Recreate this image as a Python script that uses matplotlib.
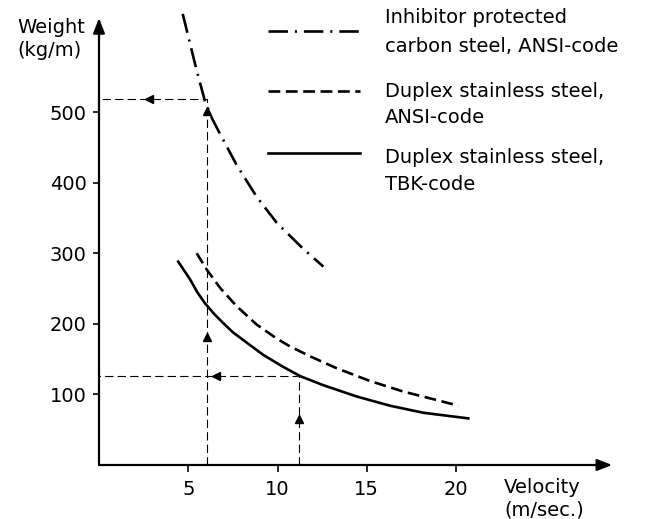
import numpy as np
import matplotlib.pyplot as plt

plt.rcParams['font.family'] = ['DejaVu Sans']
plt.rcParams['lines.scale_dashes'] = False

# curves: velocity (m/sec.) vs weight (kg/m)
carbon_v = [4.69, 5.10, 5.47, 5.94, 6.35, 6.78, 7.71, 8.83, 9.96, 11.45, 12.57]
carbon_w = [639, 597, 559, 515, 490, 469, 425, 380, 343, 306, 281]

ansi_v = [5.47, 6.03, 6.78, 7.71, 8.83, 9.96, 10.70, 11.82, 13.32, 15.18, 17.05, 18.92, 20.13]
ansi_w = [300, 277, 251, 225, 199, 179, 168, 154, 137, 119, 104, 92, 84]

tbk_v = [4.44, 5.10, 5.50, 5.94, 6.45, 6.96, 7.50, 8.08, 9.20, 10.32, 11.26, 12.57,
         14.44, 16.30, 18.17, 20.69]
tbk_w = [288, 263, 245, 229, 214, 201, 188, 177, 156, 139, 126, 113, 97, 84, 74, 66]

# worked example (guide lines)
ex_v = [11.2, 6.03]
ex_w = [126, 518]

x_ticks = [5, 10, 15, 20]
y_ticks = [100, 200, 300, 400, 500]

legend_labels = [
    ["Inhibitor protected", "carbon steel, ANSI-code"],
    ["Duplex stainless steel,", "ANSI-code"],
    ["Duplex stainless steel,", "TBK-code"],
]

W, H = 647, 519
fig = plt.figure(figsize=(W / 100, H / 100), dpi=100)

# axes placed so that data origin sits at pixel (99, 465)
x0, y0 = 99, 465
sx, sy = 17.85, 0.706
xmax, ymax = 30, 650
ax = fig.add_axes([x0 / W, (H - y0) / H, xmax * sx / W, ymax * sy / H])
ax.set_xlim(0, xmax)
ax.set_ylim(0, ymax)
for s in ax.spines.values():
    s.set_visible(False)
ax.patch.set_alpha(0)

# axes drawn as arrows
arrow_kw = dict(arrowstyle='-|>,head_length=0.9,head_width=0.35', color='black',
                lw=1.6, shrinkA=0, shrinkB=0)
ax.annotate('', xy=(28.75, 0), xytext=(0, 0), arrowprops=arrow_kw, annotation_clip=False)
ax.annotate('', xy=(0, 633), xytext=(0, 0), arrowprops=arrow_kw, annotation_clip=False)

ax.set_xticks(x_ticks)
ax.set_yticks(y_ticks)
ax.tick_params(axis='x', direction='out', length=5, width=1.2, pad=6, labelsize=14)
ax.tick_params(axis='y', direction='out', length=4, width=1.2, pad=5, labelsize=14)

k = 'black'
ax.plot(carbon_v, carbon_w, color=k, lw=1.9, ls=(0, (14, 5, 1.5, 5)))
ax.plot(ansi_v, ansi_w, color=k, lw=1.9, ls=(0, (8.5, 4)))
ax.plot(tbk_v, tbk_w, color=k, lw=1.9, ls='-')

# guide lines of the worked example
guide = dict(color=k, lw=0.8, ls=(0, (6, 3)))
ax.plot([ex_v[0], ex_v[0], 0], [0, ex_w[0], ex_w[0]], **guide)
ax.plot([ex_v[1], ex_v[1], 0], [0, ex_w[1], ex_w[1]], **guide)
ax.plot([ex_v[0], ex_v[1], ex_v[1]], [65, 182, 501], ls='none', marker='^',
        color=k, ms=6)
ax.plot([6.54, 2.8], [ex_w[0], ex_w[1]], ls='none', marker='<', color=k, ms=6)

# axis titles
def fx(px):
    return px / W

def fy(py):
    return 1 - py / H

fig.text(fx(17), fy(33), "Weight", fontsize=14, va='baseline')
fig.text(fx(17), fy(56), "(kg/m)", fontsize=14, va='baseline')
fig.text(fx(504), fy(493), "Velocity", fontsize=14, va='baseline')
fig.text(fx(504), fy(515), "(m/sec.)", fontsize=14, va='baseline')

# legend, drawn by hand as in the original
styles = [(0, (14, 5, 1.5, 5)), (0, (8.5, 4)), '-']
sample_y = [30.7, 90.7, 153.3]
text_base = [(23, 52), (97, 123), (163, 190)]
for st, yy, (b1, b2), lab in zip(styles, sample_y, text_base, legend_labels):
    fig.add_artist(plt.Line2D([fx(268), fx(360)], [fy(yy), fy(yy)], color=k,
                              lw=1.9, ls=st))
    fig.text(fx(385), fy(b1), lab[0], fontsize=14, va='baseline')
    fig.text(fx(385), fy(b2), lab[1], fontsize=14, va='baseline')

fig.savefig('out.png', dpi=100)
